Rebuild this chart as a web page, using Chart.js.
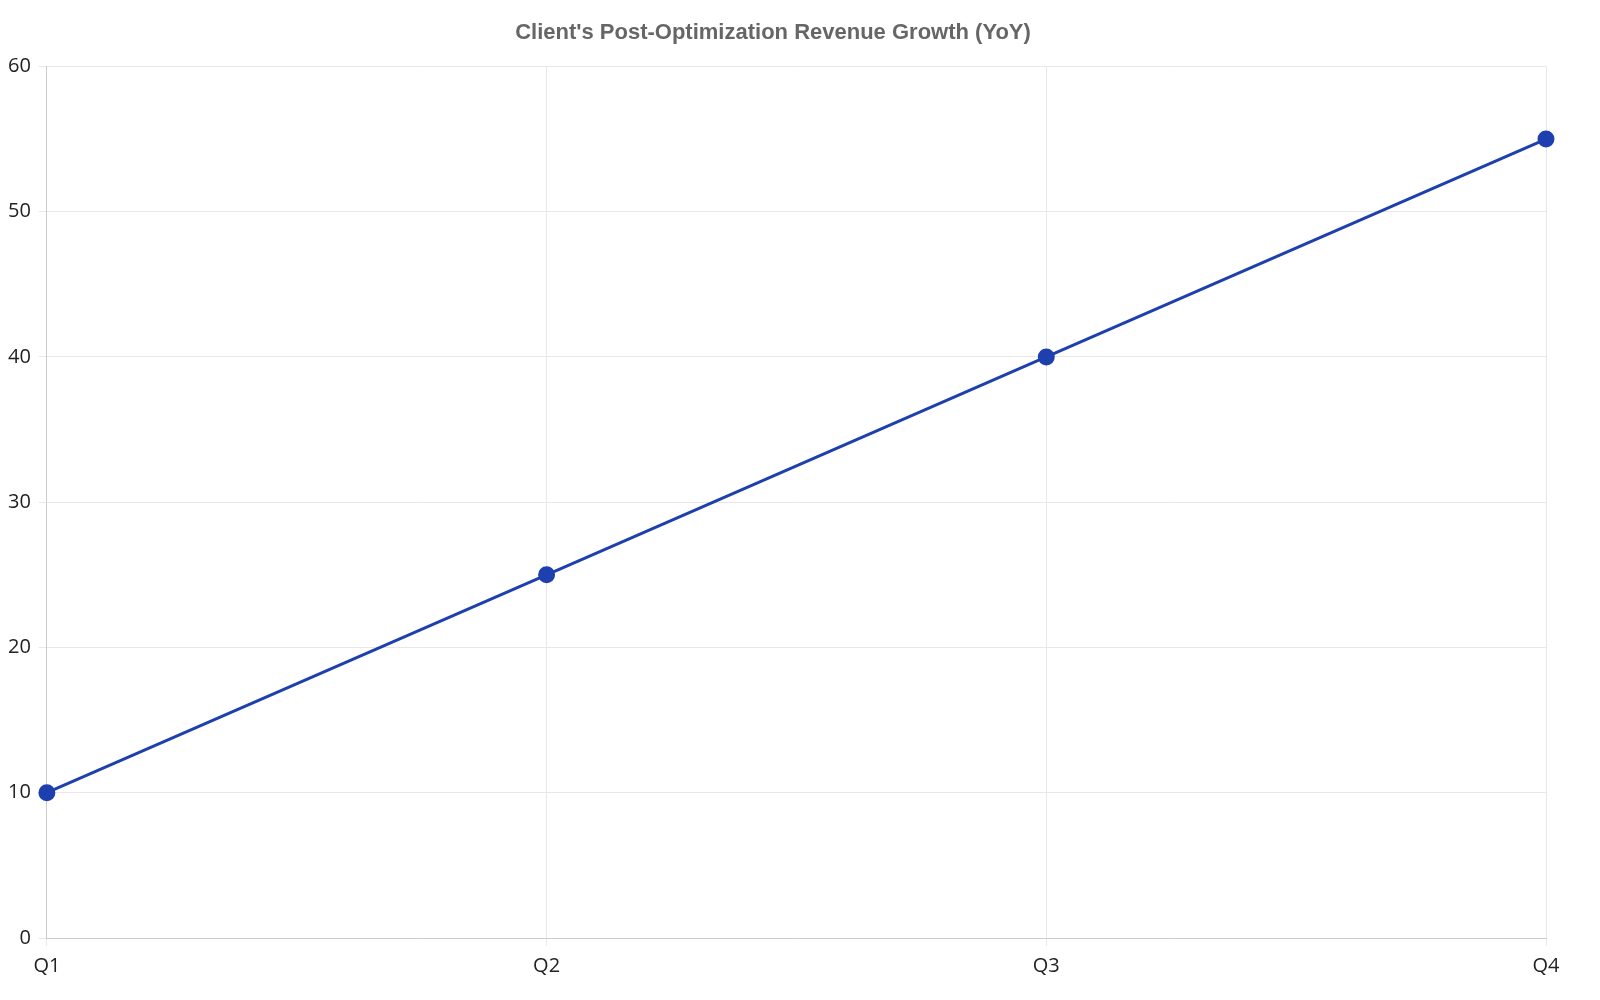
<!DOCTYPE html>
<html><head><script src="https://cdn.jsdelivr.net/npm/chart.js@4"></script>
<style>html,body{margin:0;padding:0;background:#fff;overflow:hidden}#w{width:1600px;height:1000px}</style></head>
<body><div id="w"><canvas id="c"></canvas></div>
<script>
const categories = ['Q1','Q2','Q3','Q4'];
const growth = [10,25,40,55];
const yTicks = [0,10,20,30,40,50,60];
new Chart(document.getElementById('c'), {
  type:'line',
  data:{labels:categories,datasets:[{label:'Revenue Growth (%)',data:growth,borderColor:'#1e40af',backgroundColor:'#1e40af',borderWidth:3,pointRadius:7,pointHoverRadius:7,tension:0}]},
  options:{responsive:true,maintainAspectRatio:false,animation:false,
    layout:{padding:{top:10,right:54,bottom:14,left:0}},
    plugins:{legend:{display:false},
      title:{display:true,text:"Client's Post-Optimization Revenue Growth (YoY)",color:'#666',font:{family:'Liberation Sans, Arial',size:22,weight:'bold'},padding:{top:10,bottom:20}}},
    scales:{
      x:{offset:false,grid:{color:'#e8e8e8'},border:{color:'#ccc'},ticks:{color:'#222',font:{family:'Open Sans',size:20},padding:8}},
      y:{min:0,max:60,afterBuildTicks:a=>{a.ticks=yTicks.map(v=>({value:v}))},grid:{color:'#e8e8e8'},border:{color:'#ccc'},ticks:{color:'#222',font:{family:'Open Sans',size:20},padding:8}}
    }}
});
</script></body></html>
